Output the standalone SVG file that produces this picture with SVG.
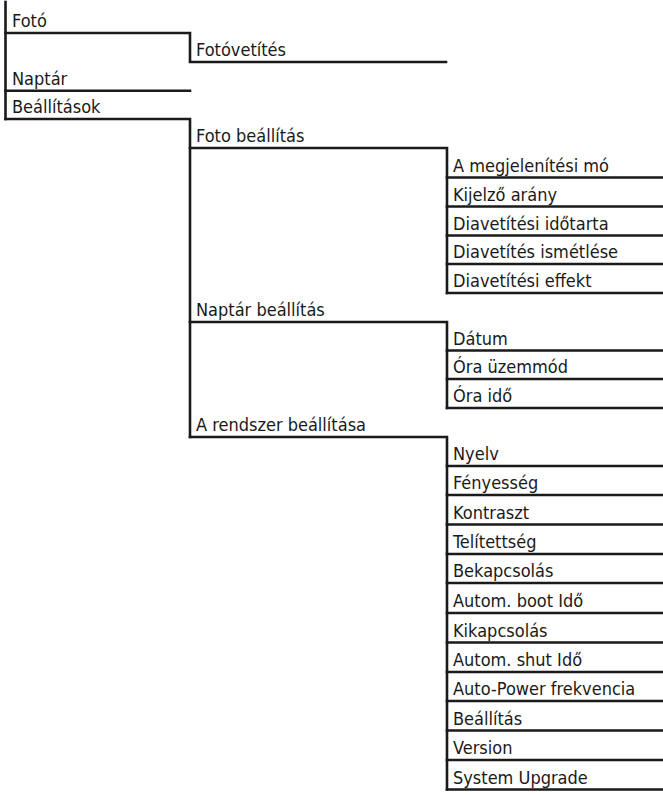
<svg xmlns="http://www.w3.org/2000/svg" width="663" height="795" viewBox="0 0 663 795">
<style>
text{font-family:"Liberation Sans Narrow","DejaVu Sans Condensed","Liberation Sans",sans-serif;font-stretch:condensed;font-size:18px;fill:#1a1a1a}
.ln{stroke:#1a1a1a;stroke-width:2.6;fill:none;stroke-linecap:square}
</style>
<rect width="663" height="795" fill="#fff"/>
<g id="connectors" class="ln">
<path d="M5.5 2V119"/>
<path d="M5.5 33H190V62H446"/>
<path d="M5.5 90.7H190"/>
<path d="M5.5 119H190V437"/>
<path d="M190 148H447V293"/>
<path d="M190 322H447V408"/>
<path d="M190 437H447V789.5"/>
<path d="M447 177.5H663M447 206.5H663M447 235.5H663M447 264H663M447 293H663"/>
<path d="M447 350.5H663M447 379H663M447 408H663"/>
<path d="M447 466H663M447 495H663M447 524.5H663M447 554H663M447 583H663M447 613H663M447 642.5H663M447 672H663M447 701H663M447 730.5H663M447 760H663M447 789.5H663"/>
</g>
<g id="n-foto"><text x="12" y="27">Fotó</text></g>
<g id="n-fotovetites"><text x="196" y="56">Fotóvetítés</text></g>
<g id="n-naptar"><text x="12" y="84.5">Naptár</text></g>
<g id="n-beallitasok"><text x="12" y="113">Beállítások</text></g>
<g id="n-foto-beallitas"><text x="196" y="142">Foto beállítás</text></g>
<g id="n-megjelenitesi"><text x="453" y="171.5">A megjelenítési mó</text></g>
<g id="n-kijelzo"><text x="453" y="200.5">Kijelző arány</text></g>
<g id="n-idotarta"><text x="453" y="229.5">Diavetítési időtarta</text></g>
<g id="n-ismetlese"><text x="453" y="258">Diavetítés ismétlése</text></g>
<g id="n-effekt"><text x="453" y="287">Diavetítési effekt</text></g>
<g id="n-naptar-beallitas"><text x="196" y="316">Naptár beállítás</text></g>
<g id="n-datum"><text x="453" y="344.5">Dátum</text></g>
<g id="n-ora-uzemmod"><text x="453" y="373">Óra üzemmód</text></g>
<g id="n-ora-ido"><text x="453" y="402">Óra idő</text></g>
<g id="n-rendszer"><text x="196" y="431">A rendszer beállítása</text></g>
<g id="n-nyelv"><text x="453" y="460">Nyelv</text></g>
<g id="n-fenyesseg"><text x="453" y="489">Fényesség</text></g>
<g id="n-kontraszt"><text x="453" y="518.5">Kontraszt</text></g>
<g id="n-telitettseg"><text x="453" y="548">Telítettség</text></g>
<g id="n-bekapcsolas"><text x="453" y="577">Bekapcsolás</text></g>
<g id="n-autom-boot"><text x="453" y="607">Autom. boot Idő</text></g>
<g id="n-kikapcsolas"><text x="453" y="636.5">Kikapcsolás</text></g>
<g id="n-autom-shut"><text x="453" y="666">Autom. shut Idő</text></g>
<g id="n-auto-power"><text x="453" y="695">Auto-Power frekvencia</text></g>
<g id="n-beallitas"><text x="453" y="724.5">Beállítás</text></g>
<g id="n-version"><text x="453" y="754">Version</text></g>
<g id="n-system-upgrade"><text x="453" y="783.5">System Upgrade</text></g>
</svg>
